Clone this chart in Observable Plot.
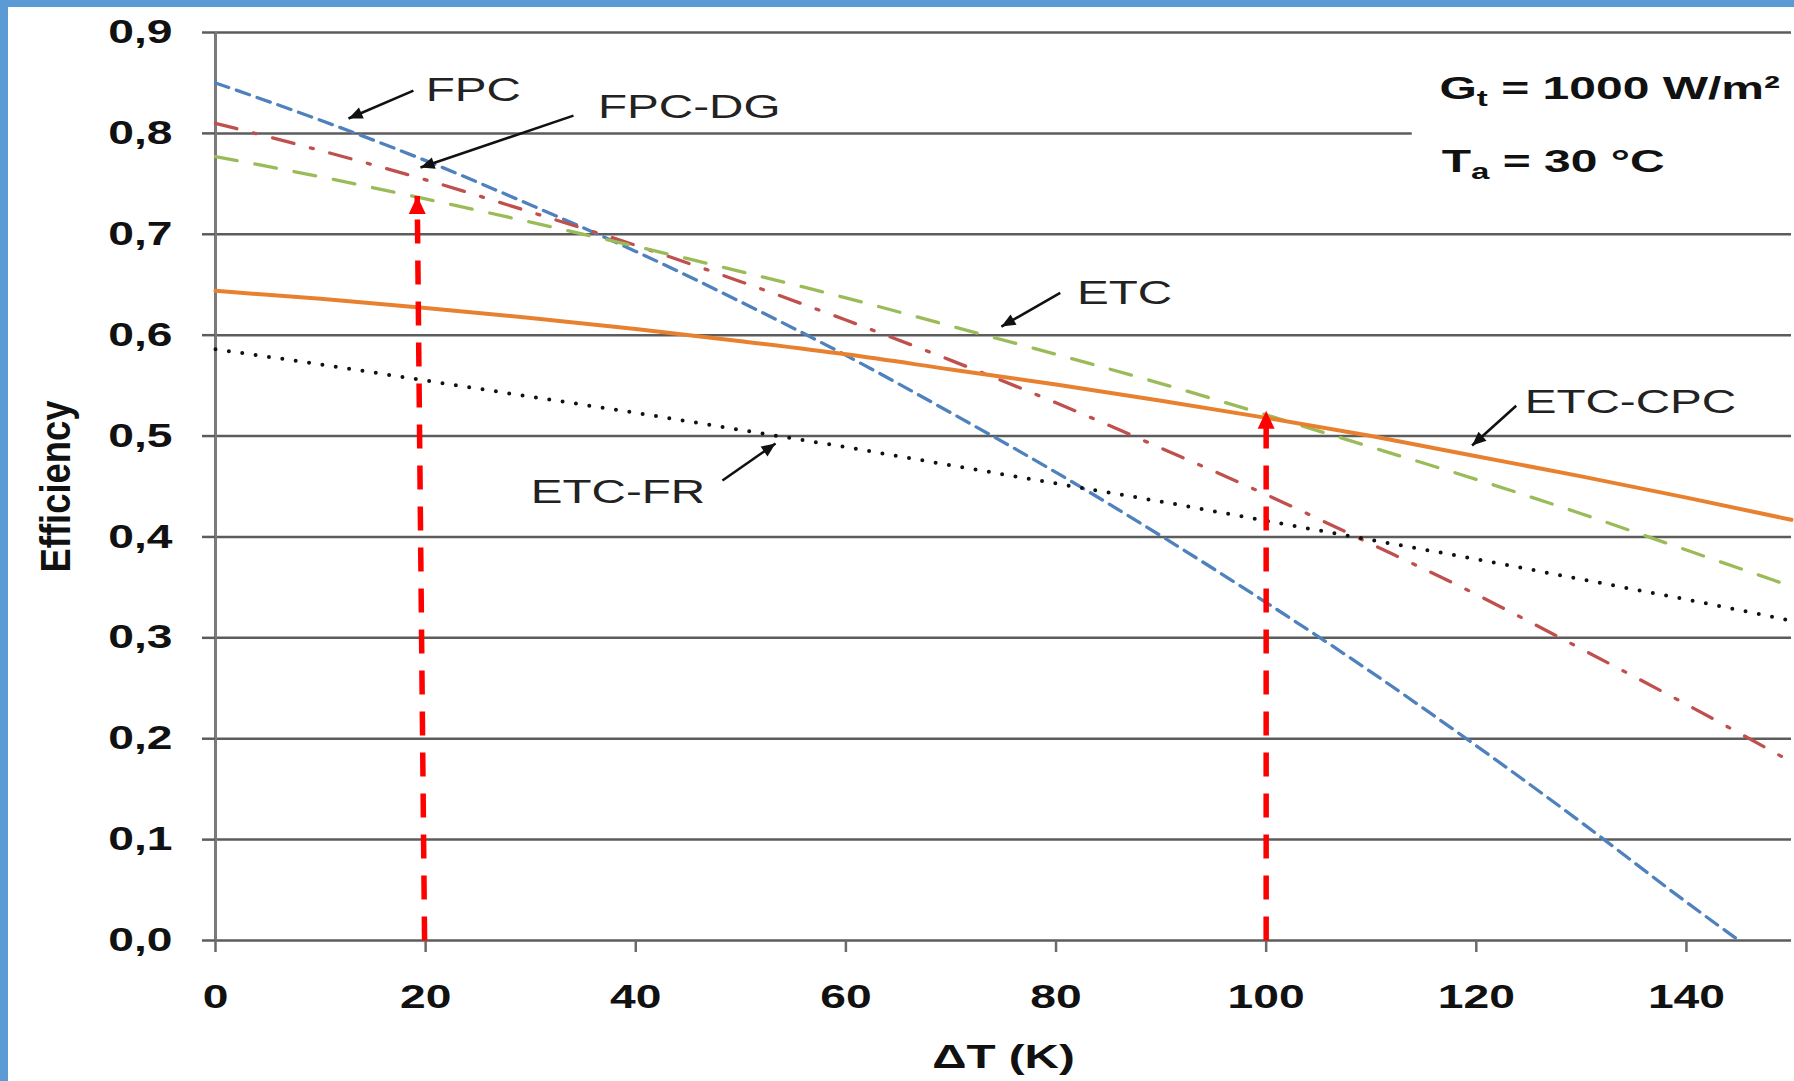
<!DOCTYPE html>
<html>
<head>
<meta charset="utf-8">
<script src="https://cdn.jsdelivr.net/npm/d3@7"></script>
<script src="https://cdn.jsdelivr.net/npm/@observablehq/plot@0.6"></script>
<style>
  html, body { margin: 0; padding: 0; background: #fff; }
  #wrap { position: relative; width: 1794px; height: 1081px; overflow: hidden; background: #fff; }
  #wrap svg { position: absolute; left: 0; top: 0; }
  .band-top { position: absolute; left: 0; top: 0; width: 1794px; height: 7px; background: #5b9bd5; }
  .band-left { position: absolute; left: 0; top: 0; width: 8px; height: 1081px; background: #5b9bd5; }
</style>
</head>
<body>
<div id="wrap"></div>
<script>
// ---------------- data ----------------
const deltaT    = [0, 10, 20, 30, 40, 50, 60, 70, 80, 90, 100, 110, 120, 130, 140, 150];
const fpcDeltaT = [0, 10, 20, 30, 40, 50, 60, 70, 80, 90, 100, 110, 120, 130, 140, 145];
const fpcEff    = [0.850, 0.813, 0.773, 0.729, 0.683, 0.633, 0.580, 0.523, 0.464, 0.401, 0.335, 0.266, 0.193, 0.117, 0.038, 0.000];
const fpcDgEff  = [0.810, 0.783, 0.754, 0.722, 0.689, 0.653, 0.615, 0.575, 0.533, 0.488, 0.442, 0.393, 0.343, 0.289, 0.234, 0.177];
const etcEff    = [0.777, 0.757, 0.735, 0.712, 0.688, 0.663, 0.637, 0.609, 0.581, 0.552, 0.521, 0.489, 0.457, 0.423, 0.387, 0.351];
const etcCpcEff = [0.644, 0.636, 0.627, 0.617, 0.606, 0.594, 0.581, 0.566, 0.551, 0.535, 0.518, 0.500, 0.480, 0.460, 0.439, 0.417];
const etcFrEff  = [0.586, 0.571, 0.555, 0.539, 0.523, 0.506, 0.489, 0.471, 0.453, 0.435, 0.416, 0.397, 0.378, 0.358, 0.338, 0.317];

const xTicks = [0, 20, 40, 60, 80, 100, 120, 140];
const yTicks = [0, 0.1, 0.2, 0.3, 0.4, 0.5, 0.6, 0.7, 0.8, 0.9];
const xLabel = "ΔT (K)";
const yLabel = "Efficiency";

// curve labels (text start, baseline) and their pointer arrows (start -> tip), in data units
const curveLabels = [
  {text: "FPC",     x: 20.0,  y: 0.8325},
  {text: "FPC-DG",  x: 36.4,  y: 0.8157},
  {text: "ETC",     x: 82.0,  y: 0.6313},
  {text: "ETC-CPC", x: 124.6, y: 0.5233},
  {text: "ETC-FR",  x: 30.0,  y: 0.4340}
];
const labelArrows = [
  {x1: 18.84, y1: 0.8424, x2: 12.66, y2: 0.8147},
  {x1: 34.07, y1: 0.8176, x2: 19.51, y2: 0.7661},
  {x1: 80.40, y1: 0.6420, x2: 74.80, y2: 0.6085},
  {x1: 123.8, y1: 0.5300, x2: 119.6, y2: 0.4906},
  {x1: 48.25, y1: 0.4560, x2: 53.30, y2: 0.4926}
];
// red vertical reading arrows (bottom -> tip)
const readArrows = [
  {x1: 19.9, y1: 0, x2: 19.2, y2: 0.738},
  {x1: 100,  y1: 0, x2: 100,  y2: 0.525}
];
// conditions box
const conditions = [
  {text: "G_t = 1000 W/m²", x: 116.5, y: 0.8345},
  {text: "T_a = 30 °C",     x: 116.7, y: 0.762}
];
const conditionsBox = [{x1: 113.9, x2: 150, y1: 0.72, y2: 0.88}];

// ---------------- build tables ----------------
const seriesNames = ["FPC", "FPC-DG", "ETC", "ETC-CPC", "ETC-FR"];
const seriesX = {"FPC": fpcDeltaT, "FPC-DG": deltaT, "ETC": deltaT, "ETC-CPC": deltaT, "ETC-FR": deltaT};
const seriesY = {"FPC": fpcEff, "FPC-DG": fpcDgEff, "ETC": etcEff, "ETC-CPC": etcCpcEff, "ETC-FR": etcFrEff};
const rowsOf = name => seriesX[name].map((t, i) => ({dT: t, eff: seriesY[name][i]}));

// ---------------- styles ----------------
const styles = {
  "FPC":     {stroke: "#4f81bd", strokeWidth: 3.3, strokeDasharray: "14,8"},
  "FPC-DG":  {stroke: "#c0504d", strokeWidth: 3.3, strokeDasharray: "22,17,3,17"},
  "ETC":     {stroke: "#9bbb59", strokeWidth: 3.3, strokeDasharray: "22,18"},
  "ETC-CPC": {stroke: "#e8812f", strokeWidth: 4},
  "ETC-FR":  {stroke: "#111111", strokeWidth: 4, strokeDasharray: "0,13.5", strokeLinecap: "round"}
};

const W = 1794, H = 1081, ML = 215, MR = 3, MT = 32, MB = 141;
const X0 = 0, X1 = 150, Y0 = 0, Y1 = 0.9;
const sx = (W - ML - MR) / (X1 - X0), sy = (H - MT - MB) / (Y1 - Y0);
const headAngle = d => Math.atan2(-(d.y2 - d.y1) * sy, (d.x2 - d.x1) * sx) * 180 / Math.PI + 90;

const redHead = {draw(ctx) { ctx.moveTo(0, 0); ctx.lineTo(8.5, 18); ctx.lineTo(-8.5, 18); ctx.closePath(); }};
const blackHead = {draw(ctx) { ctx.moveTo(0, 0); ctx.lineTo(6, 14); ctx.lineTo(-6, 14); ctx.closePath(); }};

const gridColor = "#5c5c5c";

const chart = Plot.plot({
  width: W, height: H,
  marginLeft: ML, marginRight: MR, marginTop: MT, marginBottom: MB,
  x: {domain: [X0, X1]},
  y: {domain: [Y0, Y1]},
  style: {fontFamily: "'Liberation Sans', Arial, sans-serif", fontWeight: "bold", background: "transparent", color: "#111"},
  marks: [
    Plot.ruleY(yTicks, {stroke: gridColor, strokeWidth: 2.5}),
    Plot.rect(conditionsBox, {x1: "x1", x2: "x2", y1: "y1", y2: "y2", fill: "white"}),
    Plot.ruleX([0], {stroke: "#7a7a7a", strokeWidth: 3}),
    Plot.axisY({ticks: yTicks, tickSize: 13, tickPadding: 30, fontSize: 33, stroke: gridColor, strokeWidth: 2.5, fill: "#111",
                tickFormat: d => d.toFixed(1).replace(".", ","), label: null}),
    Plot.axisX({ticks: xTicks, tickSize: 12, tickPadding: 32, fontSize: 33, stroke: "#6a6a6a", strokeWidth: 2.5, fill: "#111",
                tickFormat: d => String(d), label: null}),
    ...seriesNames.map(name => Plot.line(rowsOf(name), {x: "dT", y: "eff", curve: "monotone-x", ...styles[name]})),
    Plot.link(readArrows, {x1: "x1", y1: "y1", x2: "x2", y2: "y2", stroke: "#ff0000", strokeWidth: 5.5, strokeDasharray: "24,17"}),
    Plot.dot(readArrows, {x: "x2", y: "y2", symbol: redHead, fill: "#ff0000", stroke: null}),
    Plot.link(labelArrows, {x1: "x1", y1: "y1", x2: "x2", y2: "y2", stroke: "#111", strokeWidth: 2.6}),
    Plot.dot(labelArrows, {x: "x2", y: "y2", symbol: blackHead, rotate: headAngle, fill: "#111", stroke: null}),
    Plot.text(curveLabels, {x: "x", y: "y", text: "text", textAnchor: "start", lineAnchor: "bottom", fontSize: 34, fontWeight: "normal", fill: "#222"}),
    Plot.text(conditions, {x: "x", y: "y", text: "text", textAnchor: "start", lineAnchor: "bottom", fontSize: 32, fontWeight: "bold", fill: "#111"}),
    Plot.text([xLabel], {text: d => d, frameAnchor: "bottom", textAnchor: "middle", dy: 127, lineAnchor: "bottom", fontSize: 34, fontWeight: "bold", fill: "#111"}),
    Plot.text([yLabel], {text: d => d, frameAnchor: "left", textAnchor: "middle", dx: -159, rotate: -90, fontSize: 42, fontWeight: "bold", fill: "#111"})
  ]
});

const wrapEl = document.getElementById("wrap");
wrapEl.appendChild(chart);
const bandTop = document.createElement("div"); bandTop.className = "band-top";
const bandLeft = document.createElement("div"); bandLeft.className = "band-left";
wrapEl.append(bandTop, bandLeft);

// The reference's lettering is horizontally stretched; reproduce that and the subscripts.
const NS = "http://www.w3.org/2000/svg";
function fitText(t, len) {
  t.setAttribute("textLength", len.toFixed(1));
  t.setAttribute("lengthAdjust", "spacingAndGlyphs");
}
chart.querySelectorAll("text").forEach(t => {
  const raw = t.textContent;
  const tr = t.getAttribute("transform") || "";
  if (raw.includes("_")) {
    const i = raw.indexOf("_");
    const a = document.createElementNS(NS, "tspan"); a.textContent = raw.slice(0, i);
    const b = document.createElementNS(NS, "tspan"); b.textContent = raw[i + 1];
    b.setAttribute("dy", "7"); b.setAttribute("font-size", "22");
    const c = document.createElementNS(NS, "tspan"); c.textContent = raw.slice(i + 2);
    c.setAttribute("dy", "-7");
    t.textContent = "";
    t.append(a, b, c);
    fitText(t, t.getComputedTextLength() * 1.5);
  } else if (tr.includes("rotate")) {
    // rotated y label: glyphs widened, run length kept as in the reference
    fitText(t, 172);
  } else {
    const len = t.getComputedTextLength();
    if (len > 0) fitText(t, len * 1.4);
  }
});
</script>
</body>
</html>
